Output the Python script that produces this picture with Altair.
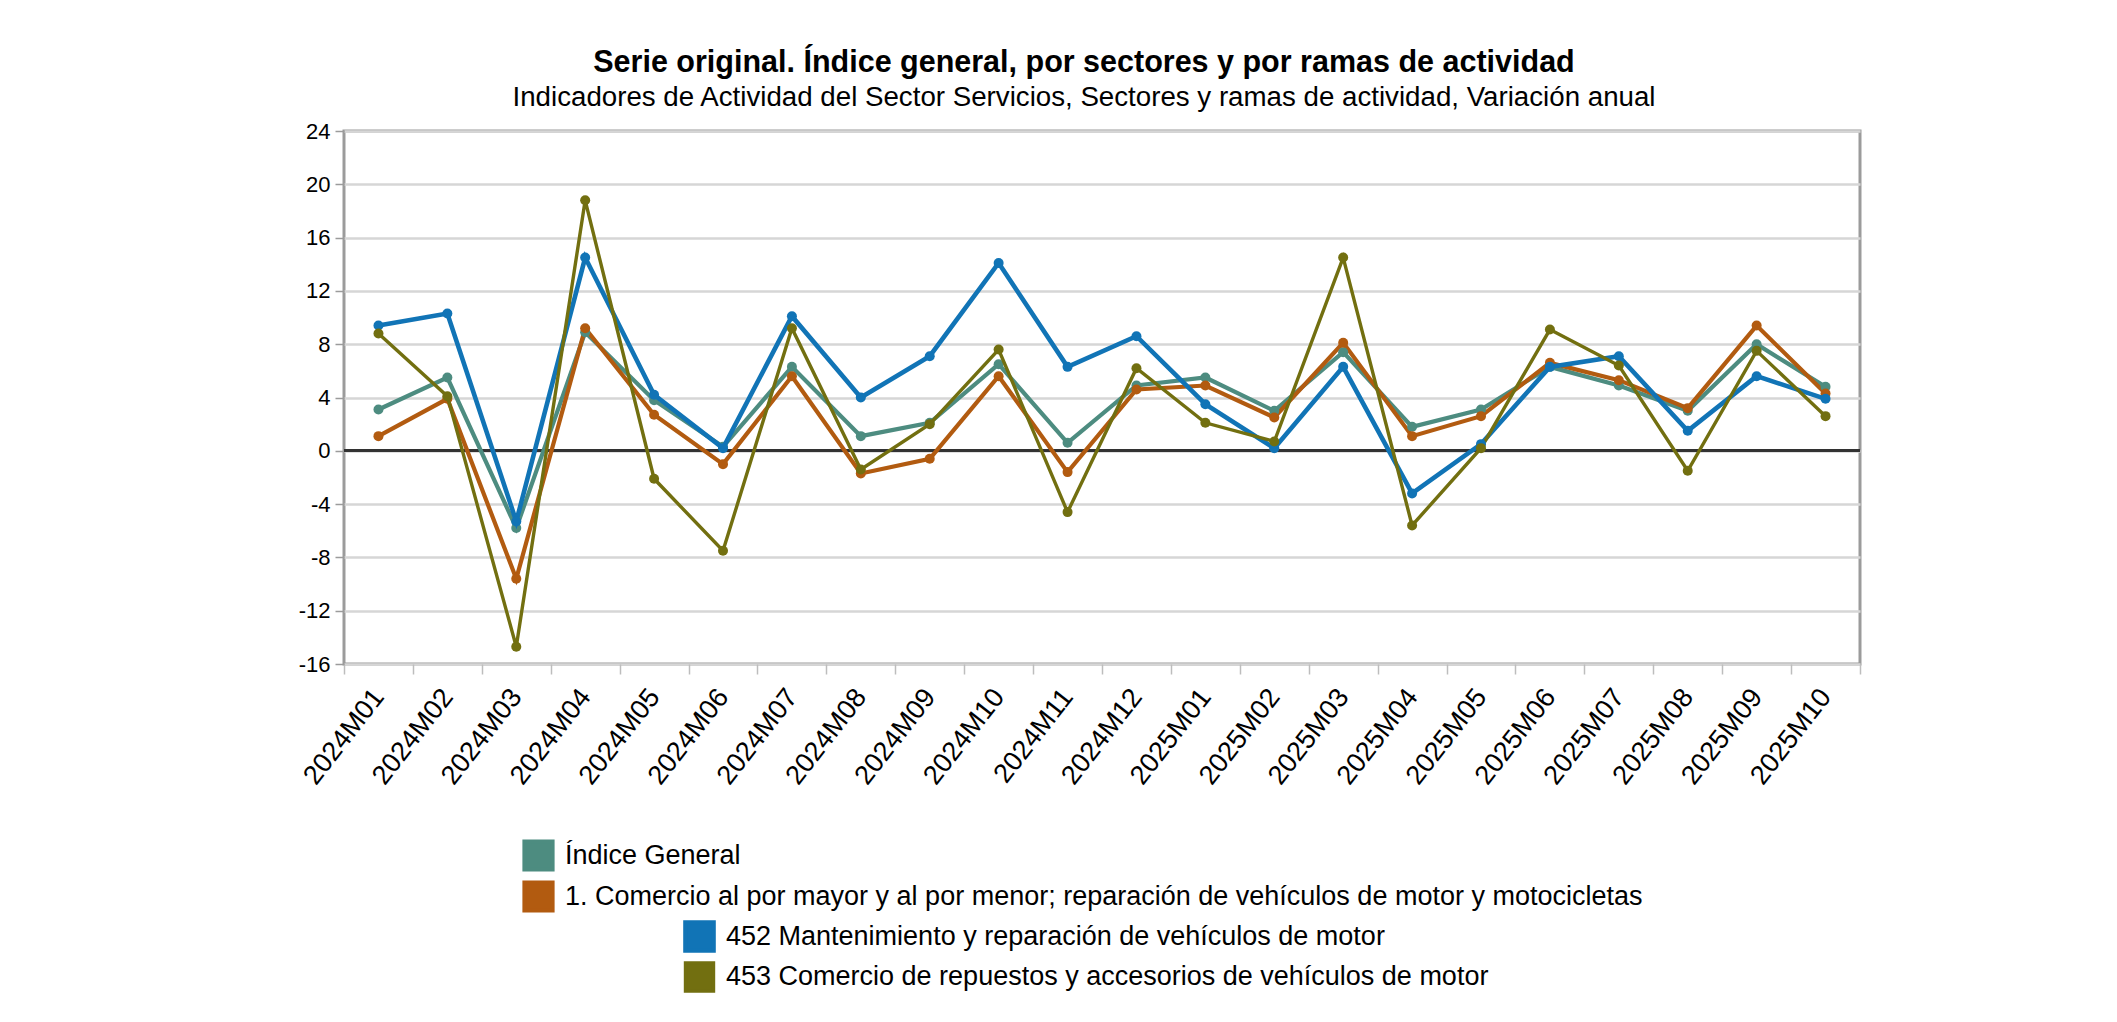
import altair as alt
import pandas as pd

FONT = "Liberation Sans"

periodos = ["2024M01", "2024M02", "2024M03", "2024M04", "2024M05", "2024M06",
            "2024M07", "2024M08", "2024M09", "2024M10", "2024M11", "2024M12",
            "2025M01", "2025M02", "2025M03", "2025M04", "2025M05", "2025M06",
            "2025M07", "2025M08", "2025M09", "2025M10"]

s1 = "Índice General"
s2 = "1. Comercio al por mayor y al por menor; reparación de vehículos de motor y motocicletas"
s3 = "452 Mantenimiento y reparación de vehículos de motor"
s4 = "453 Comercio de repuestos y accesorios de vehículos de motor"

indice_general = [3.1, 5.5, -5.8, 8.9, 3.8, 0.3, 6.3, 1.1, 2.1, 6.5, 0.6, 4.9,
                  5.5, 3.0, 7.4, 1.8, 3.1, 6.3, 4.9, 3.0, 8.0, 4.8]
comercio = [1.1, 3.9, -9.6, 9.2, 2.7, -1.0, 5.6, -1.7, -0.6, 5.6, -1.6, 4.6,
            4.9, 2.5, 8.1, 1.1, 2.6, 6.6, 5.3, 3.2, 9.4, 4.3]
mantenimiento = [9.4, 10.3, -5.3, 14.5, 4.2, 0.2, 10.1, 4.0, 7.1, 14.1, 6.3, 8.6,
                 3.5, 0.2, 6.3, -3.2, 0.5, 6.3, 7.1, 1.5, 5.6, 3.9]
repuestos = [8.8, 4.1, -14.7, 18.8, -2.1, -7.5, 9.2, -1.4, 2.0, 7.6, -4.6, 6.2,
             2.1, 0.7, 14.5, -5.6, 0.2, 9.1, 6.4, -1.5, 7.5, 2.6]

series_a = [s1, s2]
series_b = [s3, s4]
colores_a = ["#4d8c80", "#b25b10"]
colores_b = ["#1174b6", "#726f10"]
grosor_a = [4.2, 4.2]
grosor_b = [4.6, 3.4]

y_ticks = [-16, -12, -8, -4, 0, 4, 8, 12, 16, 20, 24]

rows = []
for name, vals in [(s1, indice_general), (s2, comercio), (s3, mantenimiento), (s4, repuestos)]:
    for p, v in zip(periodos, vals):
        rows.append({"periodo": p, "serie": name, "valor": v})
df = pd.DataFrame(rows)

W, H = 1516, 533

x_enc = alt.X("periodo:N", sort=periodos, bandPosition=0.5,
              scale=alt.Scale(type="band", domain=periodos, paddingInner=0, paddingOuter=0),
              axis=alt.Axis(title=None, labelAngle=-52, labelFontSize=27, labelFont=FONT,
                            labelColor="#000", tickBand="extent", tickSize=10,
                            tickColor="#bdbdbd", tickWidth=1.5, domain=False, grid=False,
                            labelPadding=18, labelAlign="right", labelBaseline="middle"))
y_enc = alt.Y("valor:Q", scale=alt.Scale(domain=[-16, 24], nice=False, zero=False),
              axis=alt.Axis(title=None, values=y_ticks, labelFontSize=22, labelFont=FONT,
                            labelColor="#000", tickColor="#9b9b9b", tickSize=9,
                            tickWidth=1.5, domain=False, grid=True, gridColor="#d6d6d6",
                            gridWidth=2.5, labelPadding=5,
                            labelExpr="datum.value + ''"))

base = alt.Chart(df)


def grupo(series, colores, grosores, lx, ly):
    filt = alt.FieldOneOfPredicate(field="serie", oneOf=series)
    sc = alt.Scale(domain=series, range=colores)
    leg = alt.Legend(orient="none", legendX=lx, legendY=ly, title=None,
                     symbolType="square", symbolSize=784, symbolStrokeWidth=0,
                     symbolOpacity=1, labelFont=FONT, labelFontSize=27,
                     labelColor="#000", labelLimit=1600, rowPadding=-4,
                     labelOffset=10, padding=0)
    linea = base.transform_filter(filt).mark_line().encode(
        x=x_enc, y=y_enc,
        color=alt.Color("serie:N", scale=sc, legend=leg),
        strokeWidth=alt.StrokeWidth("serie:N", scale=alt.Scale(domain=series, range=grosores), legend=None),
        order=alt.Order("periodo:N"),
    )
    puntos = base.transform_filter(filt).mark_circle(size=100, opacity=1).encode(
        x=x_enc, y=y_enc,
        color=alt.Color("serie:N", scale=sc, legend=leg),
    )
    return alt.layer(linea, puntos)


cero = base.mark_rule(color="#333333", strokeWidth=2.5).encode(y=alt.datum(0))

ga = grupo(series_a, colores_a, grosor_a, 178, 708)
gb = grupo(series_b, colores_b, grosor_b, 339, 789)

chart = alt.layer(cero, ga, gb).resolve_scale(color="independent", strokeWidth="independent").properties(
    width=W, height=H,
    title=alt.TitleParams(
        text="Serie original. Índice general, por sectores y por ramas de actividad",
        subtitle="Indicadores de Actividad del Sector Servicios, Sectores y ramas de actividad, Variación anual",
        font=FONT, fontSize=30.5, fontWeight="bold", color="#000",
        subtitleFont=FONT, subtitleFontSize=27.7, subtitleColor="#000",
        anchor="middle", frame="group", offset=8, subtitlePadding=6, dx=-18),
    autosize=alt.AutoSizeParams(type="none"),
    padding={"left": 336, "top": 123, "right": 249, "bottom": 350},
    background="#ffffff",
).configure_view(stroke="#9b9b9b", strokeWidth=3)

chart.save("out.html", embed_options={"renderer": "svg", "actions": False})
